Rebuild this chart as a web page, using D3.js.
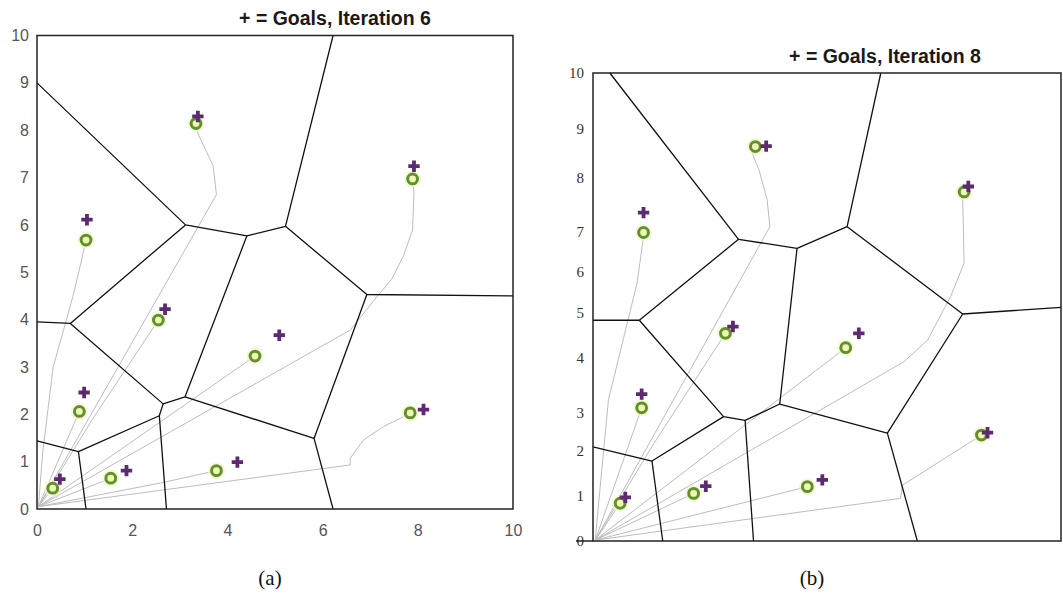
<!DOCTYPE html>
<html>
<head>
<meta charset="utf-8">
<script src="https://cdn.jsdelivr.net/npm/d3@7"></script>
<style>
  html, body { margin: 0; padding: 0; background: #fff; }
  svg { display: block; }
</style>
</head>
<body>
<svg id="fig" width="1063" height="606"></svg>
<script>
// ---------- data: panel (a), iteration 6 ----------
const ticksA = [0, 1, 2, 3, 4, 5, 6, 7, 8, 9, 10];
const xTicksA = [0, 2, 4, 6, 8, 10];

// agent positions (circles)
const agentsA = [
  [3.34, 8.14], [7.89, 6.97], [1.03, 5.68], [2.55, 3.99], [4.58, 3.23],
  [0.89, 2.06], [7.84, 2.03], [3.77, 0.81], [1.55, 0.65], [0.33, 0.44]
];
// goal positions (+)
const goalsA = [
  [3.38, 8.29], [7.92, 7.24], [1.05, 6.11], [2.69, 4.22], [5.09, 3.67],
  [0.99, 2.46], [8.12, 2.10], [4.21, 0.99], [1.88, 0.81], [0.48, 0.63]
];
// paths travelled by each agent from the origin
const pathsA = [
  [[0.03, 0.05], [3.77, 6.64], [3.70, 7.25], [3.38, 7.93], [3.34, 8.14]],
  [[0.03, 0.05], [6.58, 3.78], [7.14, 4.48], [7.45, 4.85], [7.70, 5.35], [7.89, 5.89], [7.92, 6.68], [7.89, 6.97]],
  [[0.03, 0.05], [0.12, 1.20], [0.34, 3.00], [0.75, 4.47], [0.90, 5.10], [1.03, 5.68]],
  [[0.03, 0.05], [1.20, 1.95], [2.55, 3.99]],
  [[0.03, 0.05], [4.58, 3.23]],
  [[0.03, 0.05], [0.89, 2.06]],
  [[0.03, 0.05], [6.58, 0.93], [6.58, 1.07], [6.86, 1.46], [7.28, 1.74], [7.70, 1.95], [7.84, 2.03]],
  [[0.03, 0.05], [2.60, 0.55], [3.77, 0.81]],
  [[0.03, 0.05], [1.55, 0.65]],
  [[0.03, 0.05], [0.33, 0.44]]
];
// Voronoi partition edges
const cellsA = [
  [[0, 9.0], [3.12, 6.00], [4.41, 5.77], [5.22, 5.97], [6.22, 10]],
  [[5.22, 5.97], [6.93, 4.53], [10, 4.50]],
  [[3.12, 6.00], [0.70, 3.92], [0, 3.95]],
  [[0.70, 3.92], [2.65, 2.22], [3.11, 2.37], [4.41, 5.77]],
  [[3.11, 2.37], [5.82, 1.49], [6.93, 4.53]],
  [[5.82, 1.49], [6.22, 0]],
  [[2.65, 2.22], [2.57, 1.97], [2.72, 0]],
  [[2.57, 1.97], [0.87, 1.21], [0, 1.44]],
  [[0.87, 1.21], [1.03, 0]]
];

// ---------- data: panel (b), iteration 8 ----------
const ticksB = [0, 1, 2, 3, 4, 5, 6, 7, 8, 9, 10];

const agentsB = [
  [3.47, 8.63], [7.93, 7.74], [1.08, 6.99], [2.83, 4.55], [5.40, 4.23],
  [1.04, 3.09], [8.30, 2.42], [4.58, 1.21], [2.15, 1.06], [0.58, 0.84]
];
const goalsB = [
  [3.70, 8.64], [8.02, 7.84], [1.08, 7.36], [2.99, 4.70], [5.68, 4.55],
  [1.04, 3.34], [8.43, 2.48], [4.90, 1.36], [2.41, 1.22], [0.69, 0.97]
];
const pathsB = [
  [[0.05, 0.02], [3.78, 7.10], [3.72, 7.60], [3.55, 8.15], [3.40, 8.50], [3.47, 8.63]],
  [[0.05, 0.02], [6.64, 3.93], [7.15, 4.40], [7.64, 5.40], [7.93, 6.22], [7.90, 7.62], [7.93, 7.74]],
  [[0.05, 0.02], [0.08, 0.39], [0.33, 3.24], [0.94, 5.72], [1.08, 6.88], [1.08, 6.99]],
  [[0.05, 0.02], [1.30, 2.20], [2.83, 4.55]],
  [[0.05, 0.02], [5.40, 4.23]],
  [[0.05, 0.02], [1.04, 3.09]],
  [[0.05, 0.02], [6.57, 0.95], [6.61, 1.24], [8.30, 2.42]],
  [[0.05, 0.02], [4.58, 1.21]],
  [[0.05, 0.02], [2.15, 1.06]],
  [[0.05, 0.02], [0.58, 0.84]]
];
const cellsB = [
  [[0.36, 10], [3.11, 6.82], [4.36, 6.59], [5.43, 7.10], [6.15, 10]],
  [[5.43, 7.10], [7.90, 4.98], [10, 5.14]],
  [[3.11, 6.82], [0.99, 4.84], [0, 4.84]],
  [[0.99, 4.84], [2.79, 2.90], [3.25, 2.80], [3.99, 3.16], [4.36, 6.59]],
  [[3.99, 3.16], [6.29, 2.47], [7.90, 4.98]],
  [[6.29, 2.47], [6.93, 0]],
  [[3.25, 2.80], [3.43, 0]],
  [[2.79, 2.90], [1.26, 1.78], [0, 2.11]],
  [[1.26, 1.78], [1.49, 0]]
];

// ---------- layout ----------
const svg = d3.select("#fig");

const boxA = { left: 37, right: 513, top: 35.5, bottom: 509 };
const boxB = { left: 593, right: 1061, top: 73, bottom: 541 };
// the printed y axis of panel (b) has uneven label spacing (fraction of height per tick)
const bTickFrac = [0, 0.096, 0.192, 0.274, 0.391, 0.487, 0.575, 0.660, 0.776, 0.882, 1];

const xA = d3.scaleLinear().domain([0, 10]).range([boxA.left, boxA.right]);
const yA = d3.scaleLinear().domain([0, 10]).range([boxA.bottom, boxA.top]);
const xB = d3.scaleLinear().domain([0, 10]).range([boxB.left, boxB.right]);
const yB = d3.scaleLinear().domain(ticksB)
  .range(bTickFrac.map(f => boxB.bottom - f * (boxB.bottom - boxB.top)));

function drawPanel(g, x, y, box, paths, cells, agents, goals) {
  const line = d3.line().x(d => x(d[0])).y(d => y(d[1]));

  g.append("g").selectAll("path").data(paths).join("path")
    .attr("d", line)
    .attr("fill", "none")
    .attr("stroke", "#bdbdbd")
    .attr("stroke-width", 1);

  g.append("g").selectAll("path").data(cells).join("path")
    .attr("d", line)
    .attr("fill", "none")
    .attr("stroke", "#111")
    .attr("stroke-width", 1.3)
    .attr("stroke-linejoin", "round");

  g.append("rect")
    .attr("x", box.left).attr("y", box.top)
    .attr("width", box.right - box.left).attr("height", box.bottom - box.top)
    .attr("fill", "none").attr("stroke", "#222").attr("stroke-width", 1.5);

  // soft glow under each agent
  g.append("g").selectAll("circle").data(agents).join("circle")
    .attr("cx", d => x(d[0])).attr("cy", d => y(d[1]))
    .attr("r", 8.5).attr("fill", "#f1f7c8").attr("opacity", 0.7);

  g.append("g").selectAll("circle").data(agents).join("circle")
    .attr("cx", d => x(d[0])).attr("cy", d => y(d[1]))
    .attr("r", 4.9)
    .attr("fill", "#eef7b4")
    .attr("stroke", "#62902f")
    .attr("stroke-width", 3);

  const cross = d3.symbol().type(d3.symbolCross).size(72);
  g.append("g").selectAll("path").data(goals).join("path")
    .attr("d", cross)
    .attr("transform", d => `translate(${x(d[0])},${y(d[1])})`)
    .attr("fill", "#5d2a72");
}

const gA = svg.append("g");
drawPanel(gA, xA, yA, boxA, pathsA, cellsA, agentsA, goalsA);
const gB = svg.append("g");
drawPanel(gB, xB, yB, boxB, pathsB, cellsB, agentsB, goalsB);

// ---------- axes ----------
const axA_y = svg.append("g").attr("transform", `translate(${boxA.left},0)`)
  .call(d3.axisLeft(yA).tickValues(ticksA).tickSize(0).tickPadding(8));
const axA_x = svg.append("g").attr("transform", `translate(0,${boxA.bottom})`)
  .call(d3.axisBottom(xA).tickValues(xTicksA).tickSize(0).tickPadding(16));
[axA_y, axA_x].forEach(a => {
  a.select(".domain").remove();
  a.selectAll("text")
    .attr("font-family", "'Liberation Sans', Arial, sans-serif")
    .attr("font-size", 16)
    .attr("fill", "#555");
});

const axB_y = svg.append("g").attr("transform", `translate(${boxB.left},0)`)
  .call(d3.axisLeft(yB).tickValues(ticksB).tickFormat(d3.format("d")).tickSize(0).tickPadding(9));
axB_y.select(".domain").remove();
axB_y.selectAll("text")
  .attr("font-family", "'Liberation Serif', 'Times New Roman', serif")
  .attr("font-size", 15)
  .attr("fill", "#333");
// base line of panel (b) runs out to the zero label
svg.append("line")
  .attr("x1", boxB.left - 17).attr("x2", boxB.left)
  .attr("y1", yB(0)).attr("y2", yB(0))
  .attr("stroke", "#222").attr("stroke-width", 1.5);

// ---------- titles and captions ----------
const titleFont = "'Liberation Sans', Arial, sans-serif";
svg.append("text").attr("x", 335).attr("y", 25)
  .attr("text-anchor", "middle").attr("font-family", titleFont)
  .attr("font-weight", "bold").attr("font-size", 19.5).attr("fill", "#1a1a1a")
  .text("+ = Goals, Iteration 6");
svg.append("text").attr("x", 885).attr("y", 63)
  .attr("text-anchor", "middle").attr("font-family", titleFont)
  .attr("font-weight", "bold").attr("font-size", 19.5).attr("fill", "#1a1a1a")
  .text("+ = Goals, Iteration 8");

const capFont = "'Liberation Serif', 'DejaVu Serif', serif";
svg.append("text").attr("x", 270).attr("y", 585)
  .attr("text-anchor", "middle").attr("font-family", capFont)
  .attr("font-size", 21).attr("fill", "#111").text("(a)");
svg.append("text").attr("x", 812).attr("y", 585)
  .attr("text-anchor", "middle").attr("font-family", capFont)
  .attr("font-size", 21).attr("fill", "#111").text("(b)");
</script>
</body>
</html>
